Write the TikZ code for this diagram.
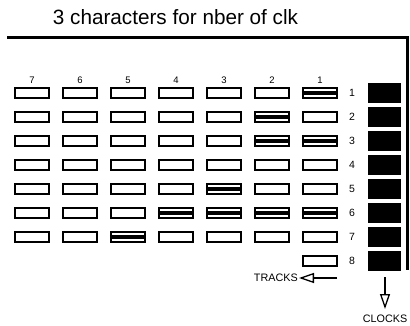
\documentclass[tikz,border=0pt]{standalone}
\usepackage{fontspec}
\setmainfont{Liberation Sans}
\usetikzlibrary{arrows.meta}
\begin{document}
\begin{tikzpicture}[x=1pt,y=-1pt,
  cell/.style={draw,line width=1.3pt,minimum width=34pt,minimum height=10pt,inner sep=0pt,outer sep=0pt},
  clk/.style={fill=black,minimum width=33pt,minimum height=19.5pt,inner sep=0pt},
  mark line/.style={line width=3.3pt},
  collab/.style={font=\fontsize{9.5}{10}\selectfont,inner sep=0pt},
  rowlab/.style={font=\fontsize{10.5}{11}\selectfont,inner sep=0pt},
  lab/.style={font=\fontsize{10.8}{12}\selectfont,inner sep=0pt},
  frame/.style={line width=3pt},
  openarrow/.style={line width=1.3pt,-{Triangle[open,length=15pt,width=10pt,line width=1.3pt]}}]
\useasboundingbox (0,0) rectangle (410,326);
% title
\node[font=\fontsize{20.7}{24}\selectfont,anchor=base,inner sep=0pt] (title) at (175.5,25) {3 characters for nber of clk};
% frame
\coordinate (fl) at (7,37.5);
\coordinate (fc) at (407.5,37.5);
\coordinate (fb) at (407.5,270);
\draw[frame] (fl) -- (fc) -- (fb);
% column labels
\foreach \c in {1,...,7} {
  \node[collab] (col\c) at ({320-48*(\c-1)},80.5) {\c};
}
% rows
\foreach \r in {1,...,7} {
  \foreach \c in {1,...,7} {
    \node[cell] (r\r c\c) at ({320-48*(\c-1)},{93+24*(\r-1)}) {};
  }
}
\node[cell] (r8c1) at (320,261) {};
\foreach \r in {1,...,8} {
  \node[rowlab] (rl\r) at (352,{93+24*(\r-1)}) {\r};
  \node[clk] (clk\r) at (384.5,{93+24*(\r-1)}) {};
}
% marked cells
\foreach \m in {r1c1,r2c2,r3c2,r3c1,r5c3,r6c4,r6c3,r6c2,r6c1,r7c5} {
  \draw[mark line] ([xshift=-1.2pt]\m.west) -- ([xshift=1.2pt]\m.east);
}
% tracks arrow
\node[lab,anchor=east] (tracks) at (298,278) {TRACKS};
\coordinate (tstart) at (337,278);
\draw[openarrow] (tstart) -- ([xshift=1pt]tracks.east);
% clocks arrow
\node[lab] (clocks) at (385,319) {CLOCKS};
\coordinate (cstart) at (385,277);
\draw[openarrow] (cstart) -- (385,309);
\end{tikzpicture}
\end{document}
